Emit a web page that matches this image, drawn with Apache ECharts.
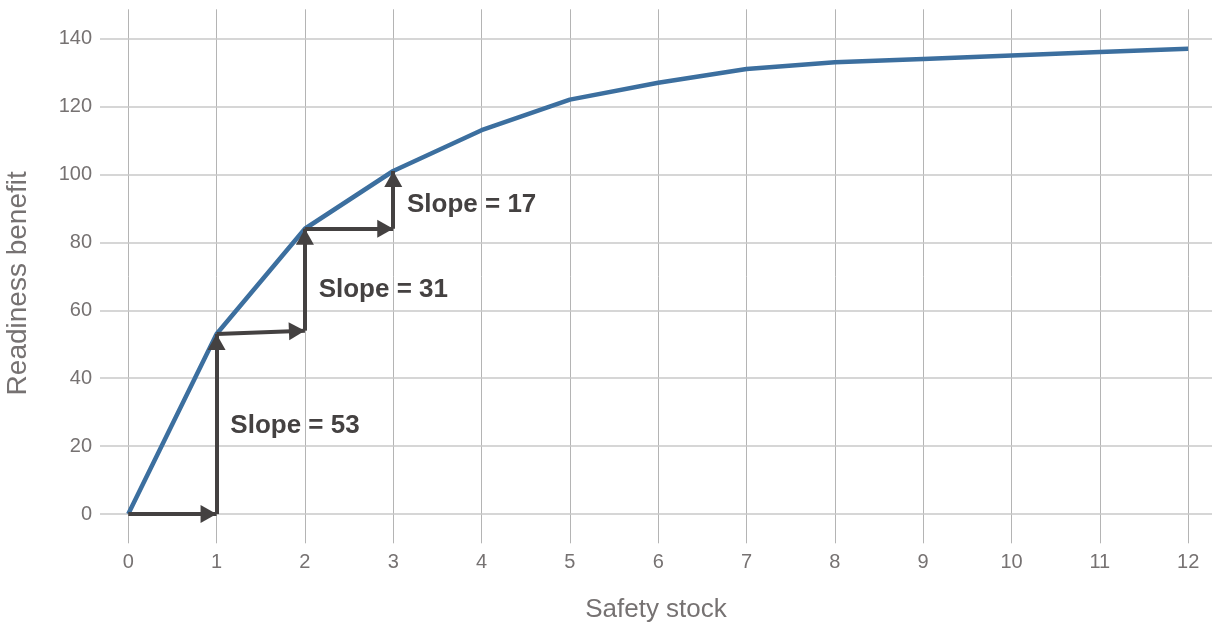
<!DOCTYPE html>
<html>
<head>
<meta charset="utf-8">
<script src="https://cdn.jsdelivr.net/npm/echarts@6/dist/echarts.min.js"></script>
<style>
  html, body { margin: 0; padding: 0; background: #ffffff; }
  #chart { width: 1212px; height: 629px; }
</style>
</head>
<body>
<div id="chart"></div>
<script>
// Safety stock level and the readiness benefit it buys
const safetyStock = [0, 1, 2, 3, 4, 5, 6, 7, 8, 9, 10, 11, 12];
const readinessBenefit = [0, 53, 84, 101, 113, 122, 127, 131, 133, 134, 135, 136, 137];

// Tick labels on each axis
const xTicks = [0, 1, 2, 3, 4, 5, 6, 7, 8, 9, 10, 11, 12];
const yTicks = [0, 20, 40, 60, 80, 100, 120, 140];

// Step arrows (run then rise) between the first few stock levels
const stepArrows = [
  [[0, 0], [1, 0]],
  [[1, 0], [1, 53]],
  [[1, 53], [2, 54]],
  [[2, 54], [2, 84]],
  [[2, 84], [3, 84]],
  [[3, 84], [3, 101]]
];

// Slope notes, anchored at their left edge in data units
const slopeTexts = ['Slope = 53', 'Slope = 31', 'Slope = 17'];
const slopeAnchors = [[1.15, 26], [2.15, 66], [3.15, 91]];

const FONT = '"Helvetica Neue", Helvetica, Arial, "Liberation Sans", sans-serif';
const AXIS_TEXT = '#767272';
const DARK = '#444141';
const BLUE = '#3c6f9f';

const chart = echarts.init(document.getElementById('chart'), null, { renderer: 'canvas' });

const gridLines = [];
xTicks.forEach(v => gridLines.push({ xAxis: v, lineStyle: { color: '#b4b4b4', width: 1, type: 'solid' } }));
yTicks.forEach(v => gridLines.push({ yAxis: v, lineStyle: { color: '#c9c9c9', width: 1.5, type: 'solid' } }));

const arrowHead = { symbol: 'triangle', symbolSize: [18, 16], symbolOffset: [0, 8] };

chart.setOption({
  animation: false,
  backgroundColor: '#ffffff',
  textStyle: { fontFamily: FONT },
  grid: { left: 100, right: 0, top: 9.3, bottom: 85.7, containLabel: false, outerBoundsMode: 'none' },
  xAxis: {
    type: 'value',
    min: -0.32,
    max: 12.27,
    axisLine: { show: false },
    axisTick: { show: false },
    splitLine: { show: false },
    axisLabel: { customValues: xTicks, fontSize: 20, color: AXIS_TEXT, margin: 9, fontFamily: FONT },
    name: 'Safety stock',
    nameLocation: 'middle',
    nameGap: 54,
    nameTextStyle: { fontSize: 26, color: AXIS_TEXT, fontFamily: FONT }
  },
  yAxis: {
    type: 'value',
    min: -8.6,
    max: 148.6,
    axisLine: { show: false },
    axisTick: { show: false },
    splitLine: { show: false },
    axisLabel: { customValues: yTicks, fontSize: 20, color: AXIS_TEXT, margin: 8, fontFamily: FONT },
    name: 'Readiness benefit',
    nameLocation: 'middle',
    nameRotate: 90,
    nameGap: 68,
    nameTextStyle: { fontSize: 28, color: AXIS_TEXT, fontFamily: FONT, padding: [0, 14, 0, 0] }
  },
  series: [
    {
      // light grid
      type: 'line',
      data: [],
      silent: true,
      z: 1,
      markLine: {
        silent: true,
        z: 1,
        symbol: ['none', 'none'],
        label: { show: false },
        emphasis: { disabled: true },
        lineStyle: { type: 'solid' },
        data: gridLines
      }
    },
    {
      type: 'line',
      data: safetyStock.map((s, i) => [s, readinessBenefit[i]]),
      showSymbol: false,
      symbol: 'none',
      lineStyle: { color: BLUE, width: 4.5, cap: 'butt', join: 'round' },
      z: 3,
      silent: true
    },
    {
      // run / rise arrows
      type: 'line',
      data: [],
      silent: true,
      z: 4,
      markLine: {
        silent: true,
        z: 4,
        symbol: ['none', 'triangle'],
        label: { show: false },
        emphasis: { disabled: true },
        lineStyle: { color: DARK, width: 4, type: 'solid', cap: 'butt', opacity: 1 },
        itemStyle: { color: DARK },
        data: stepArrows.map(seg => [
          { coord: seg[0], symbol: 'none' },
          Object.assign({ coord: seg[1] }, arrowHead)
        ])
      }
    },
    {
      type: 'scatter',
      data: slopeAnchors.map((p, i) => ({ value: p, name: slopeTexts[i] })),
      symbolSize: 1,
      itemStyle: { color: 'rgba(0,0,0,0)', opacity: 1 },
      silent: true,
      z: 5,
      label: {
        show: true,
        position: 'right',
        distance: 0,
        formatter: p => p.name,
        fontSize: 26,
        fontWeight: 'bold',
        color: DARK,
        opacity: 1,
        fontFamily: FONT
      }
    }
  ]
});
</script>
</body>
</html>
